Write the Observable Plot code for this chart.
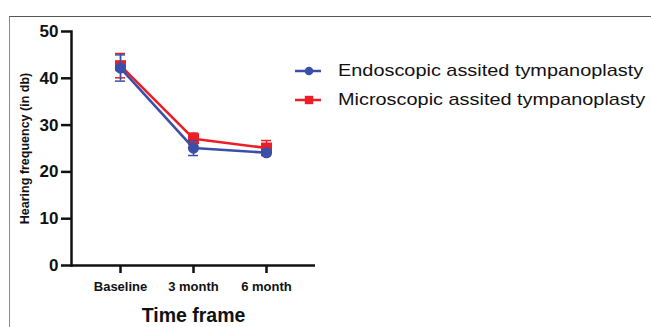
<!DOCTYPE html>
<html>
<head>
<meta charset="utf-8">
<script src="https://cdn.jsdelivr.net/npm/d3@7"></script>
<script src="https://cdn.jsdelivr.net/npm/@observablehq/plot@0.6"></script>
<style>
  html, body { margin: 0; padding: 0; background: #fff; }
  #wrap { position: relative; width: 651px; height: 327px; overflow: hidden; font-family: "Liberation Sans", Arial, sans-serif; }
  #border { position: absolute; left: 9px; top: 16px; width: 660px; height: 340px; border-top: 1px solid #555; border-left: 1.5px solid #888; box-sizing: border-box; }
  #chart { position: absolute; left: 0; top: 0; }
  .leg { position: absolute; left: 295px; height: 20px; }
  .leg svg { position: absolute; left: 0; top: 0; }
  .leg span { position: absolute; left: 43px; top: 0; font-size: 17px; color: #111; white-space: nowrap; transform-origin: left center; transform: scaleX(1.17); line-height: 20px; }
</style>
</head>
<body>
<div id="wrap">
  <div id="border"></div>
  <div id="chart"></div>
  <div id="legend"></div>
</div>
<script>
const categories = ["Baseline", "3 month", "6 month"];
const seriesNames = ["Endoscopic assited tympanoplasty", "Microscopic assited tympanoplasty"];
const endoMean = [42.2, 25.1, 24.1];
const endoErr = [2.8, 1.6, 0.5];
const microMean = [42.7, 27.1, 25.1];
const microErr = [2.6, 1.2, 1.6];
const yTicks = [0, 10, 20, 30, 40, 50];
const xTitle = "Time frame";
const yTitle = "Hearing frequency (in db)";

const colors = ["#3a4fa8", "#ee1d25"];

function rows(name, means, errs) {
  return categories.map((c, i) => ({series: name, cat: c, value: means[i], lo: means[i] - errs[i], hi: means[i] + errs[i]}));
}
const endo = rows(seriesNames[0], endoMean, endoErr);
const micro = rows(seriesNames[1], microMean, microErr);

function seriesMarks(data, color, symbol, r) {
  return [
    Plot.ruleX(data, {x: "cat", y1: "lo", y2: "hi", stroke: color, strokeWidth: 1.5}),
    Plot.ruleY(data, {x1: "cat", x2: "cat", y: "hi", stroke: color, strokeWidth: 1.5, insetLeft: -5, insetRight: -5}),
    Plot.ruleY(data, {x1: "cat", x2: "cat", y: "lo", stroke: color, strokeWidth: 1.5, insetLeft: -5, insetRight: -5}),
    Plot.line(data, {x: "cat", y: "value", stroke: color, strokeWidth: 2.6}),
    Plot.dot(data, {x: "cat", y: "value", fill: color, stroke: "none", symbol, r})
  ];
}

const plot = Plot.plot({
  width: 651,
  height: 327,
  marginLeft: 71,
  marginRight: 336,
  marginTop: 31,
  marginBottom: 62,
  style: {fontFamily: "'Liberation Sans', Arial, sans-serif", color: "#111", background: "transparent", overflow: "visible"},
  x: {type: "point", domain: categories, padding: 0.66},
  y: {domain: [0, 50]},
  marks: [
    Plot.axisY({ticks: yTicks, tickSize: 10, tickPadding: 3, fontSize: 17, fontWeight: "bold", strokeWidth: 2.5, label: null}),
    Plot.axisX({tickSize: 8, tickPadding: 8, fontSize: 13, fontWeight: "bold", strokeWidth: 2.5, label: null}),
    Plot.ruleY([0], {strokeWidth: 2.5, stroke: "#111"}),
    Plot.frame({anchor: "left", strokeWidth: 2.5, stroke: "#111"}),
    Plot.text([yTitle], {frameAnchor: "left", textAnchor: "middle", rotate: -90, dx: -47, fontSize: 12.5, fontWeight: "bold", fill: "#111"}),
    Plot.text([xTitle], {frameAnchor: "bottom", dy: 56, fontSize: 19.5, fontWeight: "bold", fill: "#111"}),
    ...seriesMarks(micro, colors[1], "square", 6.2),
    ...seriesMarks(endo, colors[0], "circle", 5.6)
  ]
});
document.getElementById("chart").appendChild(plot);

// Legend
const legend = document.getElementById("legend");
const legTops = [61, 90];
seriesNames.forEach((name, i) => {
  const item = document.createElement("div");
  item.className = "leg";
  item.style.top = legTops[i] + "px";
  const marker = i === 0
    ? `<circle cx="14" cy="10" r="4.3" fill="${colors[0]}"/>`
    : `<rect x="9.8" y="5.8" width="8.4" height="8.4" fill="${colors[1]}"/>`;
  item.innerHTML = `<svg width="28" height="20"><line x1="0" x2="26" y1="10" y2="10" stroke="${colors[i]}" stroke-width="2.5"/>${marker}</svg><span>${name}</span>`;
  legend.appendChild(item);
});
</script>
</body>
</html>
